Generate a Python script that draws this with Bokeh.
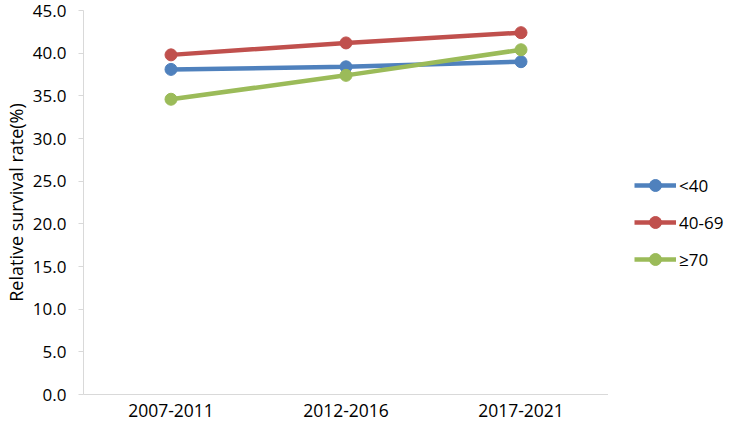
from bokeh.plotting import figure
from bokeh.layouts import row
from bokeh.models import Range1d, FactorRange, Legend, LegendItem, FixedTicker, NumeralTickFormatter
from bokeh.embed import file_html
from bokeh.resources import INLINE

periods = ["2007-2011", "2012-2016", "2017-2021"]
lt40 = [38.1, 38.4, 39.0]
a40_69 = [39.8, 41.2, 42.4]
ge70 = [34.6, 37.4, 40.4]
series_names = ["<40", "40-69", "\u226570"]
series_colors = ["#4F81BD", "#C0504D", "#9BBB59"]
y_ticks = [0, 5, 10, 15, 20, 25, 30, 35, 40, 45]

FONT = "Open Sans"

p = figure(x_range=FactorRange(*periods, range_padding=0), y_range=Range1d(0, 45),
           width=608, height=427,
           min_border_left=83, min_border_right=0, min_border_top=10, min_border_bottom=33,
           output_backend="svg", toolbar_location=None)

for name, vals, col in zip(series_names, [lt40, a40_69, ge70], series_colors):
    p.line(periods, vals, line_color=col, line_width=4.5)
    p.scatter(periods, vals, marker="circle", size=12, fill_color=col, line_color=col)

p.xgrid.visible = False
p.ygrid.visible = False
p.outline_line_color = None

ya = p.yaxis[0]
ya.ticker = FixedTicker(ticks=y_ticks)
ya.formatter = NumeralTickFormatter(format="0.0")
ya.axis_line_color = "#D9D9D9"
ya.major_tick_line_color = "#D9D9D9"
ya.major_tick_out = 5
ya.major_tick_in = 0
ya.minor_tick_line_color = None
ya.major_label_standoff = 12
ya.major_label_text_font = FONT
ya.major_label_text_font_size = "17px"
ya.major_label_text_color = "#000000"
ya.axis_label = "Relative survival rate(%)"
ya.axis_label_text_font = FONT
ya.axis_label_text_font_size = "18px"
ya.axis_label_text_font_style = "normal"
ya.axis_label_text_color = "#000000"
ya.axis_label_standoff = 2

xa = p.xaxis[0]
xa.axis_line_color = "#D9D9D9"
xa.major_tick_line_color = None
xa.major_tick_out = 0
xa.minor_tick_line_color = None
xa.major_label_standoff = 9
xa.major_label_text_font = FONT
xa.major_label_text_font_size = "17.5px"
xa.major_label_text_color = "#000000"

# legend-only panel: same series drawn against a range that keeps them out of view
lg = figure(width=118, height=427, x_range=FactorRange(*periods), y_range=Range1d(1000, 1001),
            min_border=0, output_backend="svg", toolbar_location=None,
            x_axis_type=None, y_axis_type=None)
lg.xgrid.visible = False
lg.ygrid.visible = False
lg.outline_line_color = None
items = []
for name, vals, col in zip(series_names, [lt40, a40_69, ge70], series_colors):
    l = lg.line(periods, vals, line_color=col, line_width=4.5)
    s = lg.scatter(periods, vals, marker="circle", size=12, fill_color=col, line_color=col)
    items.append(LegendItem(label=name, renderers=[l, s]))
legend = Legend(items=items, location=(26, 120), orientation="vertical",
                glyph_width=42, glyph_height=30, label_height=20, spacing=7,
                label_standoff=3, padding=0, margin=0,
                border_line_color=None, background_fill_alpha=0,
                label_text_font=FONT, label_text_font_size="17px", label_text_color="#000000")
lg.add_layout(legend)

layout = row(p, lg)
open("out.html", "w").write(file_html(layout, INLINE))
